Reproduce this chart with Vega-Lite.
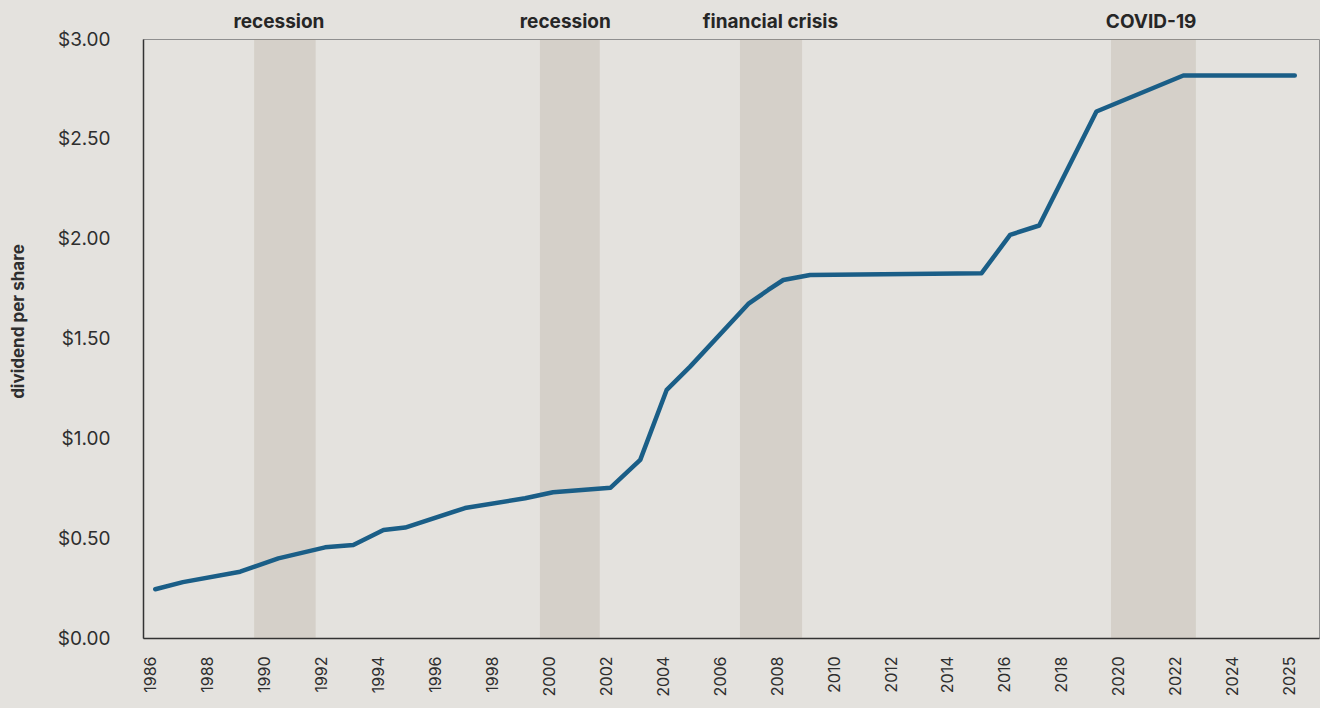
{
  "$schema": "https://vega.github.io/schema/vega-lite/v6.json",
  "width": 1176,
  "height": 599,
  "autosize": {"type": "none"},
  "padding": {"left": 143, "top": 39, "right": 1, "bottom": 70},
  "background": "#e4e2de",
  "config": {
    "view": {"stroke": "#8f8f8f", "strokeWidth": 1},
    "font": "Inter",
    "axis": {"labelFont": "Inter", "titleFont": "Inter", "labelColor": "#2e2e2e", "titleColor": "#2e2e2e"}
  },
  "datasets": {
    "dividend": [
      {"year": 1986.18, "dps": 0.244},
      {"year": 1987.15, "dps": 0.280},
      {"year": 1989.16, "dps": 0.332},
      {"year": 1990.5, "dps": 0.399},
      {"year": 1992.14, "dps": 0.454},
      {"year": 1993.13, "dps": 0.466},
      {"year": 1994.19, "dps": 0.541},
      {"year": 1994.95, "dps": 0.553},
      {"year": 1997.05, "dps": 0.651},
      {"year": 1999.16, "dps": 0.700},
      {"year": 2000.14, "dps": 0.730},
      {"year": 2002.16, "dps": 0.753},
      {"year": 2003.2, "dps": 0.892},
      {"year": 2004.13, "dps": 1.243},
      {"year": 2004.95, "dps": 1.359},
      {"year": 2006.99, "dps": 1.673},
      {"year": 2007.69, "dps": 1.743},
      {"year": 2008.22, "dps": 1.793},
      {"year": 2009.16, "dps": 1.818},
      {"year": 2015.18, "dps": 1.827},
      {"year": 2016.18, "dps": 2.019},
      {"year": 2017.2, "dps": 2.066},
      {"year": 2019.21, "dps": 2.637},
      {"year": 2022.26, "dps": 2.817},
      {"year": 2026.17, "dps": 2.817}
    ],
    "events": [
      {"label": "recession", "start": 1989.65, "end": 1991.81, "mid": 1990.52},
      {"label": "recession", "start": 1999.68, "end": 2001.78, "mid": 2000.57},
      {"label": "financial crisis", "start": 2006.70, "end": 2008.88, "mid": 2007.77},
      {"label": "COVID-19", "start": 2019.72, "end": 2022.70, "mid": 2021.13}
    ]
  },
  "layer": [
    {
      "data": {"name": "events"},
      "mark": {"type": "rect", "color": "#9b8a78", "opacity": 0.2},
      "encoding": {
        "x": {
          "field": "start",
          "type": "quantitative",
          "scale": {"domain": [1985.75, 2027.02], "nice": false, "zero": false},
          "axis": {
            "values": [1986, 1988, 1990, 1992, 1994, 1996, 1998, 2000, 2002, 2004, 2006, 2008, 2010, 2012, 2014, 2016, 2018, 2020, 2022, 2024, 2026],
            "labelExpr": "datum.value == 2026 ? '2025' : format(datum.value, 'd')",
            "labelAngle": -90,
            "labelAlign": "right",
            "labelBaseline": "middle",
            "labelFontSize": 16,
            "labelPadding": 18,
            "ticks": false,
            "grid": false,
            "domainColor": "#333333",
            "domainWidth": 1.5,
            "title": null,
            "labelOverlap": false
          }
        },
        "x2": {"field": "end"}
      }
    },
    {
      "data": {"name": "events"},
      "mark": {"type": "text", "fontWeight": "bold", "fontSize": 19, "color": "#262626", "baseline": "alphabetic", "dy": -11},
      "encoding": {
        "x": {"field": "mid", "type": "quantitative"},
        "y": {"datum": 3, "type": "quantitative"},
        "text": {"field": "label"}
      }
    },
    {
      "data": {"name": "dividend"},
      "mark": {"type": "line", "color": "#1a5e87", "strokeWidth": 4.5, "strokeCap": "round", "strokeJoin": "round"},
      "encoding": {
        "x": {"field": "year", "type": "quantitative"},
        "y": {
          "field": "dps",
          "type": "quantitative",
          "scale": {"domain": [0, 3], "nice": false},
          "axis": {
            "values": [0, 0.5, 1, 1.5, 2, 2.5, 3],
            "format": "$.2f",
            "labelFontSize": 19,
            "labelPadding": 33,
            "ticks": false,
            "gridColor": "#4d4d4d",
            "gridWidth": 1.2,
            "domainColor": "#333333",
            "domainWidth": 1.5,
            "title": "dividend per share",
            "titleFontSize": 17,
            "titleFontWeight": "bold",
            "titleAngle": -90,
            "titleX": -125,
            "titleY": 282,
            "titleAlign": "center",
            "titleBaseline": "middle"
          }
        }
      }
    }
  ]
}
